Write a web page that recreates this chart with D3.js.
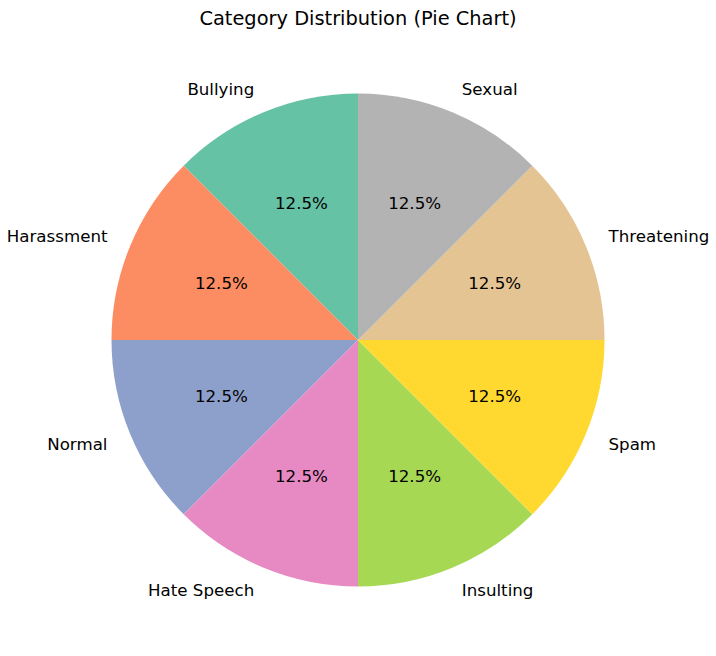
<!DOCTYPE html>
<html>
<head>
<meta charset="utf-8">
<script src="https://cdn.jsdelivr.net/npm/d3@7"></script>
<style>
  body { margin: 0; background: #fff; }
  svg { display: block; font-family: "DejaVu Sans", sans-serif; }
</style>
</head>
<body>
<svg id="chart" width="716" height="656"></svg>
<script>
// data
const categories = ["Bullying", "Harassment", "Normal", "Hate Speech", "Insulting", "Spam", "Threatening", "Sexual"];
const counts = [1, 1, 1, 1, 1, 1, 1, 1];
const colors = ["#66c2a5", "#fc8d62", "#8da0cb", "#e78ac3", "#a6d854", "#ffd92f", "#e5c494", "#b3b3b3"];

const width = 716, height = 656;
const cx = 358, cy = 340, radius = 246.5;

const svg = d3.select("#chart");

svg.append("text")
    .attr("x", cx)
    .attr("y", 24.5)
    .attr("text-anchor", "middle")
    .style("font-size", "19.4px")
    .text("Category Distribution (Pie Chart)");

// matplotlib style: start at top, go counterclockwise
const pie = d3.pie().sort(null).startAngle(0).endAngle(-2 * Math.PI);
const arcs = pie(counts);
const total = d3.sum(counts);

const arc = d3.arc().innerRadius(0).outerRadius(radius);

const g = svg.append("g").attr("transform", `translate(${cx},${cy})`);

g.selectAll("path.slice")
    .data(arcs)
    .enter().append("path")
    .attr("class", "slice")
    .attr("d", arc)
    .attr("fill", (d, i) => colors[i]);

const labelArc = d3.arc().innerRadius(radius * 1.1).outerRadius(radius * 1.1);
const pctArc = d3.arc().innerRadius(radius * 0.6).outerRadius(radius * 0.6);

g.selectAll("text.label")
    .data(arcs)
    .enter().append("text")
    .attr("class", "label")
    .attr("transform", d => `translate(${labelArc.centroid(d)})`)
    .attr("text-anchor", d => labelArc.centroid(d)[0] > 0 ? "start" : "end")
    .attr("dy", "0.35em")
    .style("font-size", "16.67px")
    .text((d, i) => categories[i]);

g.selectAll("text.pct")
    .data(arcs)
    .enter().append("text")
    .attr("class", "pct")
    .attr("transform", d => `translate(${pctArc.centroid(d)})`)
    .attr("text-anchor", "middle")
    .attr("dy", "0.35em")
    .style("font-size", "16.67px")
    .text(d => (d.value / total * 100).toFixed(1) + "%");
</script>
</body>
</html>
